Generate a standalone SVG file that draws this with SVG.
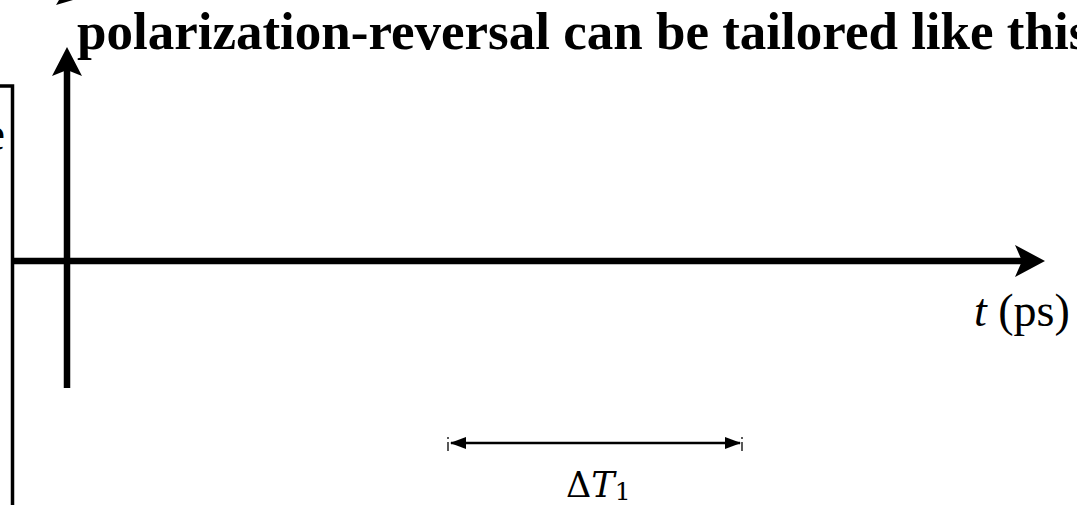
<svg xmlns="http://www.w3.org/2000/svg" width="1077" height="505" viewBox="0 0 1077 505">
  <style>
    .axis { stroke: #000; stroke-width: 6.5; fill: none; }
    .head { fill: #000; stroke: none; }
    .serif { font-family: "Liberation Serif", "Times New Roman", serif; fill: #000; }
    .math { font-family: "DejaVu Serif", "Liberation Serif", serif; fill: #000; }
  </style>
  <defs>
    <marker id="dimArrow" viewBox="0 0 16 12" refX="15" refY="6" markerWidth="16" markerHeight="12" markerUnits="userSpaceOnUse" orient="auto-start-reverse">
      <path d="M0,0 L16,6 L0,12 Z" fill="#000"/>
    </marker>
  </defs>
  <rect width="1077" height="505" fill="#fff"/>

  <g id="title">
    <text class="serif" x="77" y="49" font-size="53" font-weight="bold">polarization-reversal can be tailored like this</text>
  </g>

  <g id="left-box">
    <path d="M0,86 L12.5,86 L12.5,505" fill="none" stroke="#000" stroke-width="3.5"/>
    <text class="serif" x="5" y="150" font-size="48" text-anchor="end">e</text>
  </g>

  <g id="corner-fragment">
    <polygon class="head" points="56,5 73,0 59,0"/>
  </g>

  <g id="connectors">
    <line class="axis" x1="67" y1="70" x2="67" y2="388"/>
    <polygon class="head" points="67,47 82,76 67,70 52,76"/>
    <line class="axis" x1="12" y1="261" x2="1025" y2="261"/>
    <polygon class="head" points="1045,261 1015,277 1022,261 1015,245"/>
    <line x1="451" y1="443" x2="740" y2="443" stroke="#000" stroke-width="2.5" marker-start="url(#dimArrow)" marker-end="url(#dimArrow)"/>
    <line x1="448" y1="437" x2="448" y2="451" stroke="#000" stroke-width="1.3" stroke-dasharray="2,3,9"/>
    <line x1="742" y1="437" x2="742" y2="451" stroke="#000" stroke-width="1.3" stroke-dasharray="2,3,9"/>
  </g>

  <g id="t-label">
    <text class="serif" x="974" y="326" font-size="46"><tspan font-style="italic">t</tspan> (ps)</text>
  </g>

  <g id="dt-label">
    <text class="math" x="566" y="497" font-size="35">Δ<tspan font-style="italic">T</tspan><tspan font-size="25" dy="3">1</tspan></text>
  </g>
</svg>
